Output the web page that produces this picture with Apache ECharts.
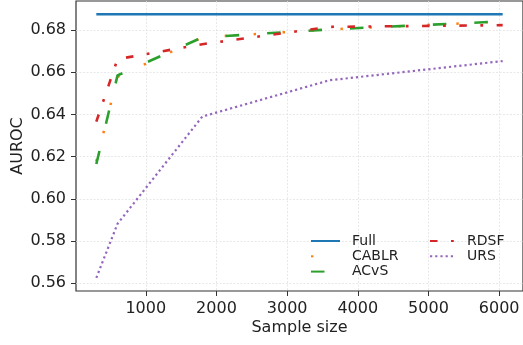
<!DOCTYPE html>
<html>
<head>
<meta charset="utf-8">
<script src="https://cdn.jsdelivr.net/npm/echarts@6/dist/echarts.min.js"></script>
<style>
  html, body { margin: 0; padding: 0; background: #fff; }
  #chart { width: 523px; height: 345px; }
</style>
</head>
<body>
<div id="chart"></div>
<script>
// sample sizes used for every method
const sampleSizes = [300, 600, 1800, 3600, 6050];

const fullAuroc = [0.6875, 0.6875, 0.6875, 0.6875, 0.6875];
const cablrAuroc = [0.6178, 0.6578, 0.6765, 0.6803, 0.6840];
const acvsAuroc = [0.6165, 0.6585, 0.6765, 0.6803, 0.6841];
const rdsfAuroc = [0.6366, 0.6662, 0.6733, 0.6815, 0.6823];
const ursAuroc = [0.5626, 0.5882, 0.6390, 0.6562, 0.6653];

const xTicks = [1000, 2000, 3000, 4000, 5000, 6000];
const yTicks = [0.56, 0.58, 0.60, 0.62, 0.64, 0.66, 0.68];

const font = "DejaVu Sans";
const ink = "#222";

function pairs(ys) {
  return sampleSizes.map((x, i) => [x, ys[i]]);
}

function lineSerie(name, ys, color, width, dash) {
  return {
    name: name,
    type: "line",
    data: pairs(ys),
    symbol: "none",
    animation: false,
    lineStyle: { color: color, width: width, type: dash, cap: "butt" },
    itemStyle: { color: color },
  };
}

const chart = echarts.init(document.getElementById("chart"), null, { renderer: "canvas" });

const legendText = { fontFamily: font, fontSize: 14, color: ink, padding: [0, 0, 0, 7] };

chart.setOption({
  backgroundColor: "#fff",
  animation: false,
  grid: {
    left: 76,
    right: 0,
    top: 1,
    bottom: 54,
    containLabel: false,
    outerBoundsMode: "none",
    show: true,
    borderColor: "#333",
    borderWidth: 1.2,
  },
  legend: [
    {
      data: ["Full", "CABLR", "ACvS"],
      orient: "vertical",
      left: 305,
      top: 229,
      itemWidth: 29,
      itemHeight: 14,
      itemGap: 1.3,
      itemStyle: { opacity: 0 },
      textStyle: legendText,
      selectedMode: false,
    },
    {
      data: ["RDSF", "URS"],
      orient: "vertical",
      left: 424,
      top: 229,
      itemWidth: 25,
      itemHeight: 14,
      itemGap: 1.3,
      itemStyle: { opacity: 0 },
      textStyle: legendText,
      selectedMode: false,
    },
  ],
  xAxis: {
    type: "value",
    min: 12.5,
    max: 6337.5,
    name: "Sample size",
    nameLocation: "middle",
    nameGap: 29,
    nameMoveOverlap: false,
    nameTextStyle: { fontFamily: font, fontSize: 16, lineHeight: 16, color: ink },
    axisLine: { show: false },
    axisTick: { show: true, length: 5, customValues: xTicks, lineStyle: { color: "#333", width: 1 } },
    axisLabel: {
      customValues: xTicks,
      margin: 9.5,
      fontFamily: font,
      fontSize: 16,
      lineHeight: 16,
      color: ink,
      formatter: (v) => String(v),
    },
    splitLine: { show: true, lineStyle: { color: "#e2e2e2", width: 0.8, type: [2, 1.5] } },
  },
  yAxis: {
    type: "value",
    min: 0.55636,
    max: 0.69375,
    name: "AUROC",
    nameLocation: "middle",
    nameGap: 50.5,
    nameMoveOverlap: false,
    nameTextStyle: { fontFamily: font, fontSize: 16, lineHeight: 16, color: ink },
    axisLine: { show: false },
    axisTick: { show: true, length: 5, customValues: yTicks, lineStyle: { color: "#333", width: 1 } },
    axisLabel: {
      customValues: yTicks,
      margin: 10,
      fontFamily: font,
      fontSize: 16,
      color: ink,
      formatter: (v) => v.toFixed(2),
    },
    splitLine: { show: true, lineStyle: { color: "#e2e2e2", width: 0.8, type: [2, 1.5] } },
  },
  series: [
    lineSerie("Full", fullAuroc, "#1f77b4", 2.6, "solid"),
    lineSerie("CABLR", cablrAuroc, "#ff7f0e", 2.5, [2.4, 26.6]),
    lineSerie("ACvS", acvsAuroc, "#2ca02c", 2.6, [13.5, 28]),
    lineSerie("RDSF", rdsfAuroc, "#d62728", 2.6, [7.5, 13.5, 2.8, 13.5]),
    lineSerie("URS", ursAuroc, "#9467bd", 2.2, [2.2, 3.0]),
  ],
});
</script>
</body>
</html>
